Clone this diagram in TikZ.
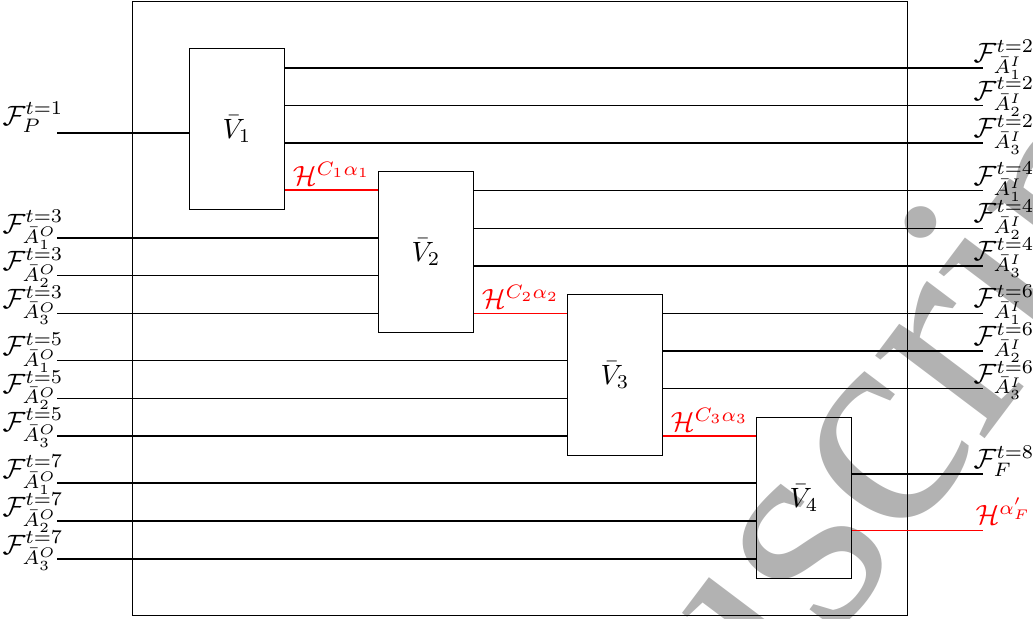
\documentclass[tikz,border=0pt]{standalone}
\usepackage{fontspec}
\usepackage{amsmath}
\newfontfamily\wmfont{Liberation Serif}
\begin{document}
\begin{tikzpicture}[x=0.0125847cm,y=-0.0125847cm,
 line width=0.4pt,
 blk/.style={draw, inner sep=0, minimum width=1.19555cm, minimum height=2.02614cm, anchor=north west},
 lft/.style={inner sep=0, anchor=base east},
 rgt/.style={inner sep=0, anchor=base west},
 hlab/.style={text=red, inner sep=1.5pt, above},
 wm/.style={text=black!30, inner sep=0, font=\wmfont\fontsize{107}{107}\selectfont},
 hline/.style={red}]
\useasboundingbox (0,0) rectangle (1033,619);
\begin{scope}
\clip (0,0) rectangle (1033,619);
\coordinate (wmP) at (1042,364);
\node[wm, rotate=53, anchor=base west] (wmA) at (wmP) {ipt};
\node[wm, rotate=53, anchor=base east] (wmB) at (wmP) {Manuscr};
\end{scope}
\node[draw, inner sep=0, minimum width=9.7531cm, minimum height=7.7270cm, anchor=north west] (frame) at (132,1) {};
\node[blk] (V1) at (189,48) {$\bar{V}_1$};
\node[blk] (V2) at (378,171) {$\bar{V}_2$};
\node[blk] (V3) at (567,294) {$\bar{V}_3$};
\node[blk] (V4) at (756,417) {$\bar{V}_4$};
% input P
\coordinate (iP) at (57,133);
\draw (iP) -- (iP -| V1.west);
\node[lft] (lP) at (64,125) {$\mathcal{F}^{t=1}_{P}$};
% left inputs
\foreach \y/\t/\k/\V in {238/3/1/V2, 275.7/3/2/V2, 313.3/3/3/V2,
                          360.7/5/1/V3, 398.3/5/2/V3, 436/5/3/V3,
                          483/7/1/V4, 521/7/2/V4, 559/7/3/V4} {
  \coordinate (i\t\k) at (57,\y);
  \draw (i\t\k) -- (i\t\k -| \V.west);
  \node[lft] (li\t\k) at (64,\y-5) {$\mathcal{F}^{t=\t}_{\bar{A}^{O}_{\k}}$};
}
% right outputs
\foreach \y/\t/\k/\V in {68/2/1/V1, 105.5/2/2/V1, 143/2/3/V1,
                          190.5/4/1/V2, 228.3/4/2/V2, 266/4/3/V2,
                          313.3/6/1/V3, 351/6/2/V3, 388.7/6/3/V3} {
  \coordinate (o\t\k) at (983,\y);
  \draw (o\t\k -| \V.east) -- (o\t\k);
  \node[rgt] (lo\t\k) at (973,\y-5.5) {$\mathcal{F}^{t=\t}_{\bar{A}^{I}_{\k}}$};
}
% final output
\coordinate (oF) at (983,474);
\draw (oF -| V4.east) -- (oF);
\node[rgt] (loF) at (973,468.5) {$\mathcal{F}^{t=8}_{F}$};
% red links
\coordinate (h1) at (0,190);
\coordinate (h2) at (0,313.3);
\coordinate (h3) at (0,436);
\draw[hline] (V1.east |- h1) -- (V2.west |- h1) node[hlab, midway] (lh1) {$\mathcal{H}^{C_1\alpha_1}$};
\draw[hline] (V2.east |- h2) -- (V3.west |- h2) node[hlab, midway] (lh2) {$\mathcal{H}^{C_2\alpha_2}$};
\draw[hline] (V3.east |- h3) -- (V4.west |- h3) node[hlab, midway] (lh3) {$\mathcal{H}^{C_3\alpha_3}$};
\coordinate (hF) at (983,530.5);
\draw[hline] (V4.east |- hF) -- (hF);
\node[rgt, text=red] (lhF) at (975,524.5) {$\mathcal{H}^{\alpha'_F}$};
\end{tikzpicture}
\end{document}
